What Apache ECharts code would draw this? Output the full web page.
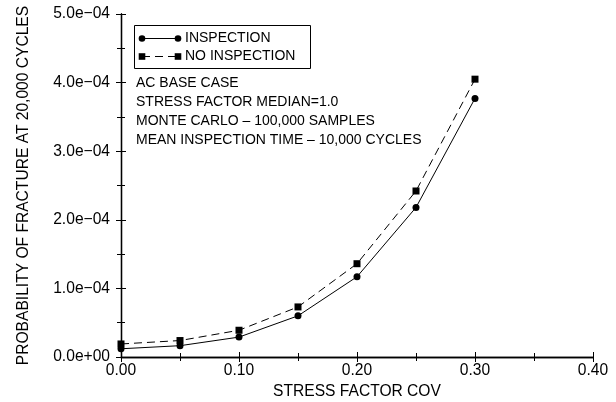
<!DOCTYPE html>
<html>
<head>
<meta charset="utf-8">
<script src="https://cdn.jsdelivr.net/npm/echarts@6/dist/echarts.min.js"></script>
<style>
html,body{margin:0;padding:0;background:#fff;}
#chart{width:616px;height:402px;}
</style>
</head>
<body>
<div id="chart"></div>
<script>
var cov = [0.00, 0.05, 0.10, 0.15, 0.20, 0.25, 0.30];
var inspection = [1.2e-5, 1.65e-5, 2.9e-5, 6.0e-5, 1.17e-4, 2.18e-4, 3.77e-4];
var noInspection = [1.9e-5, 2.4e-5, 3.9e-5, 7.3e-5, 1.36e-4, 2.42e-4, 4.05e-4];
var seriesNames = ['INSPECTION', 'NO INSPECTION'];
var notes = ['AC BASE CASE', 'STRESS FACTOR MEDIAN=1.0', 'MONTE CARLO \u2013 100,000 SAMPLES', 'MEAN INSPECTION TIME \u2013 10,000 CYCLES'];
var xTitle = 'STRESS FACTOR COV';
var yTitle = 'PROBABILITY OF FRACTURE AT 20,000 CYCLES';

var FONT = '"Liberation Sans", Arial, Helvetica, sans-serif';
var FS = 14;      // legend and notes
var FA = 15.6;    // tick labels and axis names

function pairs(xs, ys) { return xs.map(function (x, i) { return [x, ys[i]]; }); }
function expFmt(v) {
  if (v === 0) return '0.0e+00';
  var e = Math.floor(Math.log10(Math.abs(v)) + 1e-9);
  var m = v / Math.pow(10, e);
  var es = Math.abs(e) < 10 ? '0' + Math.abs(e) : '' + Math.abs(e);
  return m.toFixed(1) + 'e' + (e < 0 ? '\u2212' : '+') + es;
}

var chart = echarts.init(document.getElementById('chart'), null, {renderer: 'canvas'});
var axisLine = {show: true, lineStyle: {color: '#000', width: 1.3}};
var tick = {show: true, inside: true, length: 5, lineStyle: {color: '#000', width: 1}};
var minor = {show: true, splitNumber: 2, length: 4, lineStyle: {color: '#000', width: 1}};

var lx = 142, ly1 = 38.5, ly2 = 56.5;
var graphics = [
  {type: 'rect', shape: {x: 134.5, y: 25.5, width: 176, height: 43}, style: {fill: '#fff', stroke: '#000', lineWidth: 1}, z: 100},
  {type: 'line', shape: {x1: lx, y1: ly1, x2: lx + 36, y2: ly1}, style: {stroke: '#000', lineWidth: 1}, z: 101},
  {type: 'circle', shape: {cx: lx, cy: ly1, r: 3.3}, style: {fill: '#000'}, z: 102},
  {type: 'circle', shape: {cx: lx + 36, cy: ly1, r: 3.3}, style: {fill: '#000'}, z: 102},
  {type: 'line', shape: {x1: lx, y1: ly2, x2: lx + 36, y2: ly2}, style: {stroke: '#000', lineWidth: 1, lineDash: [8, 5]}, z: 101},
  {type: 'rect', shape: {x: lx - 3.3, y: ly2 - 3.3, width: 6.6, height: 6.6}, style: {fill: '#000'}, z: 102},
  {type: 'rect', shape: {x: lx + 36 - 3.3, y: ly2 - 3.3, width: 6.6, height: 6.6}, style: {fill: '#000'}, z: 102},
  {type: 'text', x: 185, y: ly1, style: {text: seriesNames[0], font: FS + 'px ' + FONT, fill: '#000', textVerticalAlign: 'middle'}, z: 102},
  {type: 'text', x: 185, y: ly2, style: {text: seriesNames[1], font: FS + 'px ' + FONT, fill: '#000', textVerticalAlign: 'middle'}, z: 102}
];
notes.forEach(function (t, i) {
  graphics.push({type: 'text', x: 136, y: 83 + i * 19.2, style: {text: t, font: FS + 'px ' + FONT, fill: '#000', textVerticalAlign: 'middle'}, z: 102});
});

chart.setOption({
  animation: false,
  backgroundColor: '#fff',
  textStyle: {fontFamily: FONT},
  grid: {left: 121, right: 23, top: 14, bottom: 45, containLabel: false, outerBoundsMode: 'none'},
  xAxis: [{
    type: 'value', min: 0, max: 0.4, interval: 0.1, position: 'bottom',
    name: xTitle, nameLocation: 'middle', nameGap: 26,
    nameTextStyle: {fontSize: FA, color: '#000', fontFamily: FONT},
    axisLine: axisLine, axisTick: tick, minorTick: minor, splitLine: {show: false},
    axisLabel: {color: '#000', fontSize: FA, fontFamily: FONT, margin: 6, formatter: function (v) { return v.toFixed(2); }}
  }, {
    type: 'value', min: 0, max: 0.4, interval: 0.1, position: 'top',
    axisLine: axisLine, axisTick: tick, minorTick: minor, splitLine: {show: false}, axisLabel: {show: false}
  }],
  yAxis: [{
    type: 'value', min: 0, max: 5e-4, interval: 1e-4, position: 'left',
    name: yTitle, nameLocation: 'middle', nameGap: 89, nameRotate: 90,
    nameTextStyle: {fontSize: FA, color: '#000', fontFamily: FONT},
    axisLine: axisLine, axisTick: tick, minorTick: minor, splitLine: {show: false},
    axisLabel: {color: '#000', fontSize: FA, fontFamily: FONT, margin: 11, formatter: expFmt}
  }, {
    type: 'value', min: 0, max: 5e-4, interval: 1e-4, position: 'right',
    axisLine: axisLine, axisTick: tick, minorTick: minor, splitLine: {show: false}, axisLabel: {show: false}
  }],
  series: [{
    name: seriesNames[0], type: 'line', data: pairs(cov, inspection),
    symbol: 'circle', symbolSize: 7, itemStyle: {color: '#000'},
    lineStyle: {color: '#000', width: 1, type: 'solid'}, z: 3
  }, {
    name: seriesNames[1], type: 'line', data: pairs(cov, noInspection),
    symbol: 'rect', symbolSize: 7, itemStyle: {color: '#000'},
    lineStyle: {color: '#000', width: 1, type: [8, 5]}, z: 3
  }],
  graphic: graphics
});
</script>
</body>
</html>
